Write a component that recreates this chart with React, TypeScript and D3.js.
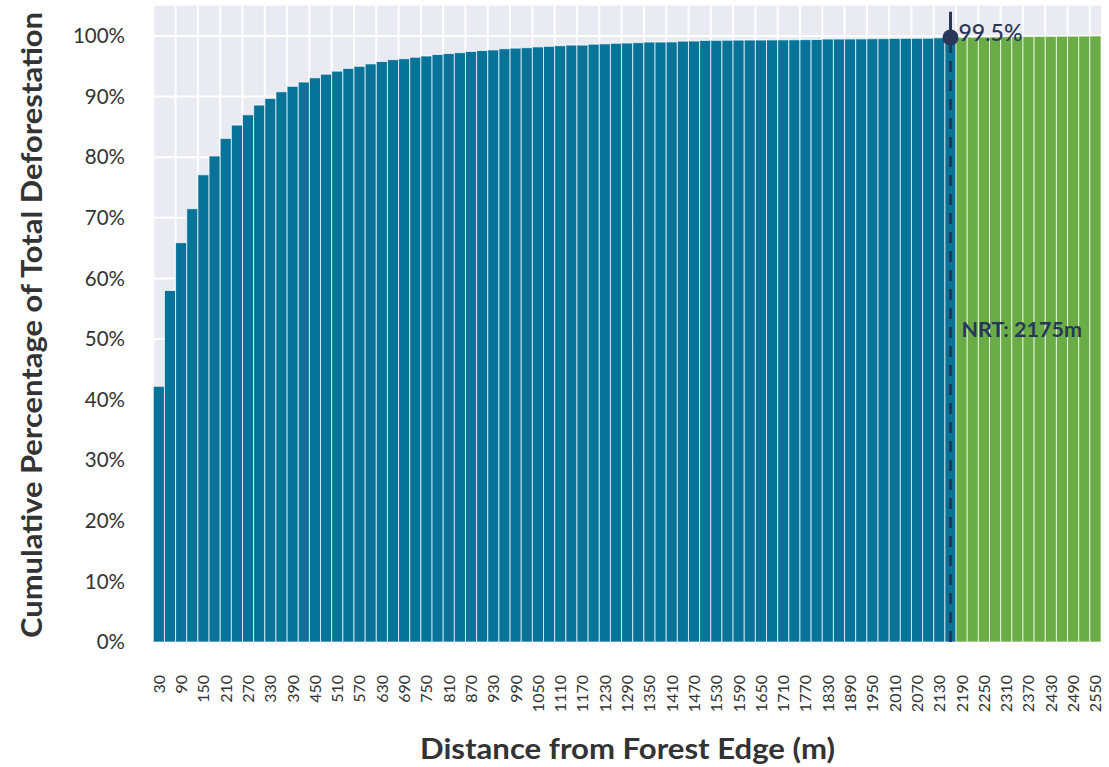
import React from "react";
import * as d3 from "d3";

// Distance bins (m), step 30 from 30 to 2550
const distances: number[] = d3.range(30, 2551, 30);

// Cumulative share of total deforestation (%)
const cumulativePct: number[] = [
  42.2, 58.0, 65.9, 71.5, 77.1, 80.2, 83.1, 85.3, 87.0, 88.6,
  89.7, 90.8, 91.7, 92.4, 93.1, 93.7, 94.2, 94.65, 95.0, 95.4,
  95.8, 96.1, 96.25, 96.5, 96.7, 96.95, 97.1, 97.25, 97.45, 97.6,
  97.7, 97.9, 98.0, 98.07, 98.2, 98.3, 98.4, 98.5, 98.5, 98.65,
  98.7, 98.8, 98.84, 98.9, 99.0, 99.0, 99.02, 99.15, 99.17, 99.27,
  99.28, 99.3, 99.32, 99.33, 99.33, 99.35, 99.36, 99.37, 99.4, 99.42,
  99.5, 99.5, 99.51, 99.52, 99.55, 99.56, 99.6, 99.61, 99.62, 99.63,
  99.7, 99.72,
  99.78, 99.8, 99.82, 99.85, 99.87, 99.88, 99.9, 99.92, 99.94, 99.96,
  99.97, 99.99, 100.0,
];

const yTicks: number[] = [0, 10, 20, 30, 40, 50, 60, 70, 80, 90, 100];
const xTickLabels: number[] = d3.range(30, 2551, 60);

const NRT_DISTANCE = 2175;
const NRT_PCT_LABEL = 99.5;

const W = 1109;
const H = 767;
const margin = { left: 153.3, right: 1101, top: 5.7, bottom: 642 };

const BLUE = "#077399";
const GREEN = "#6aad46";
const NAVY = "#28365a";
const BG = "#eaeaf2";

export default function App() {
  const x = d3.scaleLinear().domain([30, 2580]).range([margin.left, margin.right]);
  const y = d3.scaleLinear().domain([0, 105]).range([margin.bottom, margin.top]);

  const data = distances.map((d, i) => ({ d, v: cumulativePct[i] }));

  const before = data.filter((p) => p.d < NRT_DISTANCE).slice(-1)[0];
  const after = data.find((p) => p.d > NRT_DISTANCE)!;
  const nrtCurve = (before.v + after.v) / 2;
  const nx = x(NRT_DISTANCE);

  const font = "Lato, 'Open Sans', sans-serif";

  return (
    <svg
      width={W}
      height={H}
      style={{ position: "absolute", left: 0, top: 0, background: "#fff" }}
    >
      <rect
        x={margin.left}
        y={margin.top}
        width={margin.right - margin.left}
        height={margin.bottom - margin.top}
        fill={BG}
      />
      {yTicks.map((t) => (
        <line
          key={"gy" + t}
          x1={margin.left}
          x2={margin.right}
          y1={y(t)}
          y2={y(t)}
          stroke="#fff"
          strokeWidth={2}
        />
      ))}
      {xTickLabels.map((t) => (
        <line
          key={"gx" + t}
          x1={x(t)}
          x2={x(t)}
          y1={margin.top}
          y2={margin.bottom}
          stroke="#fff"
          strokeWidth={2}
        />
      ))}
      {data.map((p) => (
        <rect
          key={p.d}
          x={x(p.d)}
          width={x(p.d + 30) - x(p.d)}
          y={y(p.v)}
          height={y(0) - y(p.v)}
          fill={p.d < NRT_DISTANCE ? BLUE : GREEN}
          stroke="#ffffff"
          strokeOpacity={0.7}
          strokeWidth={1}
        />
      ))}
      <line
        x1={nx}
        x2={nx}
        y1={y(0)}
        y2={y(nrtCurve)}
        stroke={NAVY}
        strokeWidth={3}
        strokeDasharray="11,8"
      />
      <line x1={nx} x2={nx} y1={y(104)} y2={y(nrtCurve)} stroke={NAVY} strokeWidth={3} />
      <circle cx={nx} cy={y(nrtCurve)} r={8} fill={NAVY} />
      <text
        x={nx + 8}
        y={y(nrtCurve) + 3}
        fontFamily={font}
        fontSize={23}
        fontWeight={500}
        fill={NAVY}
      >
        {NRT_PCT_LABEL.toFixed(1)}%
      </text>
      <text
        x={nx + 11}
        y={y(50) - 2}
        fontFamily={font}
        fontSize={21.5}
        fontWeight={700}
        fill={NAVY}
      >
        NRT: {NRT_DISTANCE}m
      </text>
      {yTicks.map((t) => (
        <text
          key={"yl" + t}
          x={125}
          y={y(t)}
          dy="0.35em"
          textAnchor="end"
          fontFamily={font}
          fontSize={20.5}
          fontWeight={400}
          fill="#333"
        >
          {t}%
        </text>
      ))}
      {xTickLabels.map((t) => (
        <text
          key={"xl" + t}
          transform={`translate(${x(t) + 11.5},${675}) rotate(-90)`}
          textAnchor="end"
          fontFamily={font}
          fontSize={16}
          fontWeight={400}
          fill="#333"
        >
          {t}
        </text>
      ))}
      <text
        x={627.5}
        y={759}
        textAnchor="middle"
        fontFamily={font}
        fontSize={29}
        fontWeight={700}
        fill="#333"
        textLength={415}
        lengthAdjust="spacingAndGlyphs"
      >
        Distance from Forest Edge (m)
      </text>
      <text
        transform={`translate(42,${(12 + 638) / 2}) rotate(-90)`}
        textAnchor="middle"
        fontFamily={font}
        fontSize={29}
        fontWeight={700}
        fill="#333"
        textLength={626}
        lengthAdjust="spacingAndGlyphs"
      >
        Cumulative Percentage of Total Deforestation
      </text>
    </svg>
  );
}
